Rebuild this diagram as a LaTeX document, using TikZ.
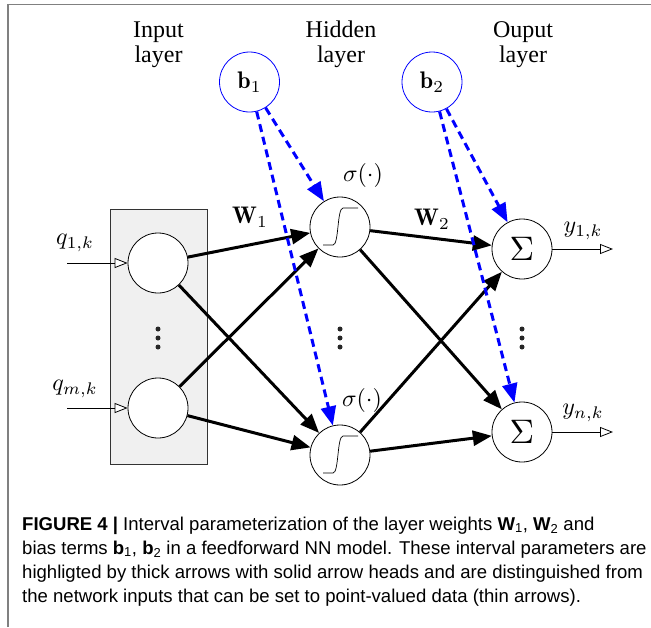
\documentclass[tikz,border=0pt]{standalone}
\usepackage{graphicx}
\usepackage{fontspec}
\newfontfamily\capfont{Liberation Sans}
\newfontfamily\layerfont{Liberation Serif}
\usetikzlibrary{arrows.meta}
\definecolor{framegray}{HTML}{808080}
\definecolor{boxfill}{HTML}{F0F0F0}
\newcommand\mathlab[1]{\scalebox{2.4}{$#1$}}
\begin{document}
\begin{tikzpicture}[x=1pt,y=-1pt,
  neuron/.style={circle,draw,line width=0.8pt,minimum size=60pt,inner sep=0pt,fill=white},
  bias/.style={circle,draw=blue,line width=0.8pt,minimum size=60pt,inner sep=0pt},
  wire/.style={line width=3pt,-{Triangle[length=19pt,width=15pt]}},
  biaswire/.style={blue,line width=3pt,dash pattern=on 8pt off 5pt,-{Triangle[length=19pt,width=15pt]}},
  io/.style={line width=0.8pt,-{Triangle[open,length=13pt,width=10pt,fill=white]}},
  lab/.style={inner sep=0pt},
  layerlab/.style={font=\layerfont\fontsize{24}{24.5}\selectfont,align=center,inner sep=0pt},
  dotmark/.style={circle,fill=black!85,inner sep=0pt,minimum size=5pt},
  capline/.style={font=\capfont\fontsize{18.55}{24}\selectfont,anchor=base west,inner sep=0pt},
  sig/.style={line width=0.7pt}
]
\useasboundingbox (0,0) rectangle (651,627);
\draw[framegray,line width=1.5pt] (8,627) -- (8,4.5) -- (651,4.5);

% layer labels
\node[layerlab] (Lin) at (158.5,44.5) {Input\\layer};
\node[layerlab] (Lhid) at (341,44.5) {Hidden\\layer};
\node[layerlab] (Lout) at (523,44.5) {Ouput\\layer};

% input box
\node[draw=black!80,fill=boxfill,line width=0.8pt,minimum width=97pt,minimum height=255pt,inner sep=0pt] (inbox) at (158.5,336.5) {};

% nodes
\node[neuron] (i1) at (158,263) {};
\node[neuron] (i2) at (158,408) {};
\node[neuron] (h1) at (340,227) {};
\node[neuron] (h2) at (340,455) {};
\node[neuron] (o1) at (522,249) {\scalebox{3.4}{$\Sigma$}};
\node[neuron] (o2) at (522,432) {\scalebox{3.4}{$\Sigma$}};
\node[bias] (b1) at (249.5,82) {\mathlab{\mathbf{b}_1}};
\node[bias] (b2) at (432,82) {\mathlab{\mathbf{b}_2}};

% sigmoids
\foreach \n in {h1,h2}{
  \begin{scope}[shift={(\n.center)}]
    \draw[sig] (-17,18) -- (-7,18) .. controls (-1,18) and (-3,-19) .. (3,-19) -- (18,-19);
  \end{scope}
}

% dots
\foreach \x/\nm in {158/a,340/b,522/c}{
  \node[dotmark] (d\nm1) at (\x,329) {};
  \node[dotmark] (d\nm2) at (\x,338) {};
  \node[dotmark] (d\nm3) at (\x,347) {};
}

% inputs / outputs
\coordinate (q1s) at (67,263);
\coordinate (q2s) at (67,408);
\coordinate (y1e) at (613,249);
\coordinate (y2e) at (613,432);
\draw[io] (q1s) -- (i1);
\draw[io] (q2s) -- (i2);
\draw[io] (o1) -- (y1e);
\draw[io] (o2) -- (y2e);

% weights
\draw[wire] (i1) -- (h1);
\draw[wire] (i1) -- (h2);
\draw[wire] (i2) -- (h1);
\draw[wire] (i2) -- (h2);
\draw[wire] (h1) -- (o1);
\draw[wire] (h1) -- (o2);
\draw[wire] (h2) -- (o1);
\draw[wire] (h2) -- (o2);

% biases
\draw[biaswire] (b1) -- (h1);
\draw[biaswire] (b1) -- (h2);
\draw[biaswire] (b2) -- (o1);
\draw[biaswire] (b2) -- (o2);

% labels
\node[lab] (q1l) at (75,243) {\mathlab{q_{1,k}}};
\node[lab] (q2l) at (75,389) {\mathlab{q_{m,k}}};
\node[lab] (y1l) at (583,231) {\mathlab{y_{1,k}}};
\node[lab] (y2l) at (583,413) {\mathlab{y_{n,k}}};
\node[lab] (W1l) at (250,217) {\mathlab{\mathbf{W}_1}};
\node[lab] (W2l) at (432,219) {\mathlab{\mathbf{W}_2}};
\node[lab] (s1l) at (363,175) {\mathlab{\sigma(\cdot)}};
\node[lab] (s2l) at (362,400) {\mathlab{\sigma(\cdot)}};

% caption
\node[capline] (c1) at (22,530) {\textbf{FIGURE 4 |} Interval parameterization of the layer weights \textbf{W}\textsubscript{1}, \textbf{W}\textsubscript{2} and};
\node[capline] (c2) at (22,554) {bias terms \textbf{b}\textsubscript{1}, \textbf{b}\textsubscript{2} in a feedforward NN model. These interval parameters are};
\node[capline] (c3) at (22,578) {highligted by thick arrows with solid arrow heads and are distinguished from};
\node[capline] (c4) at (22,602) {the network inputs that can be set to point-valued data (thin arrows).};
\end{tikzpicture}
\end{document}
